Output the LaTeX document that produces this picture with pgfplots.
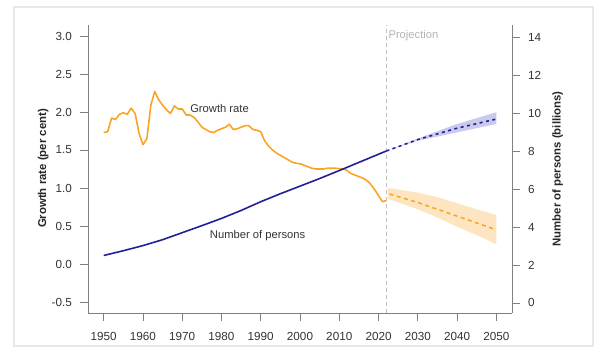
\documentclass[border=0pt]{standalone}
\usepackage{pgfplots}
\pgfplotsset{compat=1.18}
\usepackage{fontspec}
\setmainfont{Liberation Sans}
\definecolor{gorange}{HTML}{FAA425}
\definecolor{gband}{HTML}{FDE5C2}
\definecolor{pblue}{HTML}{20209A}
\definecolor{pband}{HTML}{CACAEC}
\definecolor{axgray}{HTML}{808080}
\definecolor{txt}{HTML}{333333}
\begin{document}
\begin{tikzpicture}
\draw[color=black!9, line width=1.6bp] (14bp,13bp) rectangle (593bp,352bp);
\path (0,0) (605bp,359bp);
\pgfplotsset{
  myaxis/.style={
    at={(88bp,46bp)}, anchor=south west, scale only axis,
    width=424bp, height=288bp,
    xmin=1946, xmax=2054,
    axis line style={axgray, line width=0.8bp},
    tick style={axgray, line width=0.8bp},
    tick align=outside, major tick length=8bp,
    /pgf/number format/assume math mode=true,
    tick label style={font=\fontsize{11.7bp}{14bp}\selectfont, color=txt, inner sep=0pt},
    ylabel style={font=\fontsize{11.4bp}{14bp}\selectfont\bfseries, color=black!85},
  }
}
\begin{axis}[myaxis,
  ymin=-0.645, ymax=3.145,
  axis x line*=bottom, axis y line*=left,
  xtick={1950,1960,1970,1980,1990,2000,2010,2020,2030,2040,2050},
  ytick={-0.5,0,0.5,1,1.5,2,2.5,3},
  x tick label style={/pgf/number format/1000 sep={}},
  y tick label style={/pgf/number format/.cd, fixed, fixed zerofill, precision=1},
  xticklabel shift=11bp, yticklabel shift=8bp,
  ylabel={Growth rate (per cent)},
  ylabel style={at={(axis description cs:-0.106,0.502)}, anchor=center},
]
% projection reference line
\addplot[color=black!25, line width=0.9bp, dash pattern=on 4bp off 3bp] coordinates {(2022,-0.645) (2022,3.145)};
% growth projection band
\addplot[fill=gband, draw=none] coordinates {(2022.3,1.00) (2025,0.98) (2030,0.94) (2035,0.88) (2040,0.80) (2045,0.72) (2050,0.645)
 (2050,0.26) (2045,0.38) (2040,0.49) (2035,0.61) (2030,0.72) (2025,0.81) (2022.3,0.86)} -- cycle;
\addplot[gorange, line width=1.5bp, dash pattern=on 4bp off 3.5bp] coordinates {(2022.8,0.92) (2030,0.81) (2040,0.63) (2050,0.45)};
% growth rate observed
\addplot[gorange, line width=1.6bp, line join=round] coordinates {
(1950,1.73) (1951,1.74) (1952,1.92) (1953,1.90) (1954,1.97) (1955,1.99) (1956,1.97) (1957,2.05) (1958,1.98) (1959,1.72)
(1960,1.57) (1961,1.65) (1962,2.09) (1963,2.27) (1964,2.16) (1965,2.09) (1966,2.03) (1967,1.98) (1968,2.08) (1969,2.04)
(1970,2.04) (1971,1.96) (1972,1.96) (1973,1.93) (1974,1.87) (1975,1.80) (1976,1.77) (1977,1.74) (1978,1.73) (1979,1.76)
(1980,1.78) (1981,1.80) (1982,1.84) (1983,1.77) (1984,1.78) (1985,1.80) (1986,1.82) (1987,1.82) (1988,1.77) (1989,1.76)
(1990,1.74) (1991,1.62) (1992,1.55) (1993,1.50) (1994,1.46) (1995,1.43) (1996,1.40) (1997,1.37) (1998,1.34) (1999,1.325)
(2000,1.32) (2001,1.30) (2002,1.28) (2003,1.26) (2004,1.25) (2005,1.25) (2006,1.25) (2007,1.26) (2008,1.26) (2009,1.26)
(2010,1.255) (2011,1.25) (2012,1.23) (2013,1.19) (2014,1.17) (2015,1.15) (2016,1.13) (2017,1.10) (2018,1.05) (2019,0.98)
(2020,0.90) (2021,0.82) (2022,0.835)};
\node[anchor=west, font=\fontsize{11.2bp}{13bp}\selectfont, color=txt, inner sep=0pt] at (axis cs:1972,2.05) {Growth rate};
\node[anchor=center, font=\fontsize{11.2bp}{13bp}\selectfont, color=txt, inner sep=0pt] at (axis cs:1989.2,0.38) {Number of persons};
\node[anchor=west, font=\fontsize{11.2bp}{13bp}\selectfont, color=black!30, inner sep=0pt] at (axis cs:2022.5,3.007) {Projection};
\end{axis}
\begin{axis}[myaxis,
  ymin=-0.528, ymax=14.632,
  axis x line=none, axis y line*=right,
  ytick={0,2,4,6,8,10,12,14},
  yticklabel shift=8bp,
  ylabel={Number of persons (billions)},
  ylabel style={at={(axis description cs:1.108,0.5)}, anchor=center, rotate=0},
]
\addplot[fill=pband, draw=none] coordinates {(2022,8.00) (2030,8.66) (2040,9.42) (2050,10.04)
 (2050,9.42) (2040,8.98) (2030,8.54) (2022,8.00)} -- cycle;
\addplot[pblue, line width=1.6bp, dash pattern=on 3bp off 3.5bp] coordinates {(2022,8.00) (2030,8.60) (2040,9.20) (2050,9.68)};
\addplot[pblue, line width=1.6bp, line join=round] coordinates {
(1950,2.50) (1955,2.75) (1960,3.02) (1965,3.33) (1970,3.70) (1975,4.07) (1980,4.45) (1985,4.87) (1990,5.33)
(1995,5.75) (2000,6.15) (2005,6.55) (2010,6.97) (2015,7.40) (2020,7.83) (2022,8.00)};
\end{axis}
\end{tikzpicture}
\end{document}
